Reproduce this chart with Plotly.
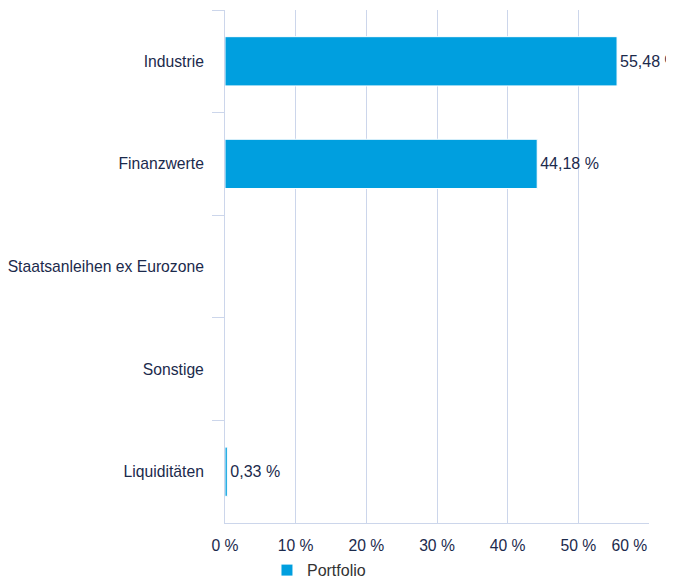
import plotly.graph_objects as go

categories = ["Industrie", "Finanzwerte", "Staatsanleihen ex Eurozone", "Sonstige", "Liquiditäten"]
values = [55.48, 44.18, None, None, 0.33]
tick_vals = [0, 10, 20, 30, 40, 50, 60]
tick_text = ["0 %", "10 %", "20 %", "30 %", "40 %", "50 %", "60 %" + "\u00a0" * 9]
series_name = "Portfolio"

labels = ["" if v is None else f"{v:.2f}".replace(".", ",") + " %" for v in values]

NAVY = "#1b2a4c"
GRID = "#ccd6eb"
FONT = "Liberation Sans, Arial, sans-serif"

fig = go.Figure()
fig.add_trace(go.Bar(
    y=categories,
    x=values,
    orientation="h",
    name=series_name,
    marker=dict(color="#009fdf", line=dict(color="#ffffff", width=1)),
    text=labels,
    textposition="outside",
    textfont=dict(family=FONT, size=16, color=NAVY),
    constraintext="none",
    cliponaxis=False,
    showlegend=True,
    hoverinfo="x+y",
))

# page body has an 8px default margin, so the figure is 8px smaller and margins compensate
fig.update_layout(
    width=666,
    height=572,
    margin=dict(l=217, r=25, t=2, b=57, autoexpand=False),
    plot_bgcolor="#ffffff",
    paper_bgcolor="#ffffff",
    font=dict(family=FONT, size=15, color=NAVY),
    bargap=0.52,
    uniformtext=dict(mode=False),
    showlegend=True,
    legend=dict(
        orientation="h",
        x=0.099, xanchor="left",
        y=-0.092, yanchor="middle",
        font=dict(family=FONT, size=16, color="#333333"),
        bgcolor="rgba(0,0,0,0)",
    ),
    xaxis=dict(
        range=[0, 60],
        tickvals=tick_vals,
        ticktext=tick_text,
        showgrid=True,
        gridcolor=GRID,
        gridwidth=1,
        zeroline=False,
        showline=True,
        linecolor=GRID,
        linewidth=1,
        ticks="",
        tickfont=dict(family=FONT, size=15.7, color=NAVY),
        ticklabelstandoff=8,
        ticklabeloverflow="allow",
        automargin=False,
        fixedrange=True,
    ),
    yaxis=dict(
        categoryorder="array",
        categoryarray=categories,
        autorange="reversed",
        showline=True,
        linecolor=GRID,
        linewidth=1,
        showgrid=False,
        ticks="outside",
        tickson="boundaries",
        ticklen=12,
        tickcolor=GRID,
        tickfont=dict(family=FONT, size=15.7, color=NAVY),
        ticklabelstandoff=17,
        automargin=False,
        fixedrange=True,
    ),
)

fig.write_html("out.html")
